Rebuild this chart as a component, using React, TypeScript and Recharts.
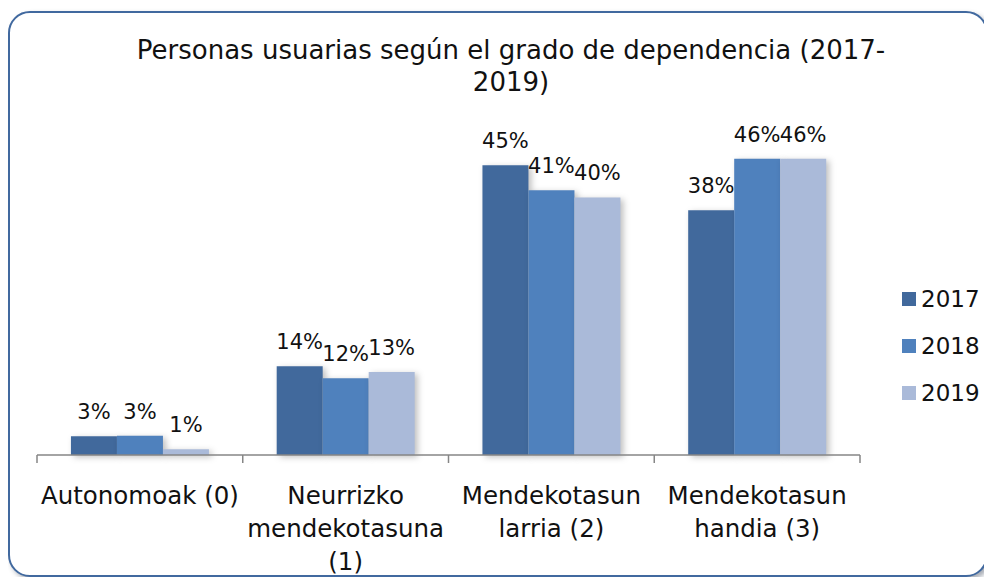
import React from 'react';
import { BarChart, Bar, XAxis, YAxis, LabelList } from 'recharts';

// categories (grado de dependencia)
const categories = ['Autonomoak (0)', 'Neurrizko mendekotasuna (1)', 'Mendekotasun larria (2)', 'Mendekotasun handia (3)'];
// how each tick label breaks into lines, as in the picture
const tickLines = [
  ['Autonomoak (0)'],
  ['Neurrizko', 'mendekotasuna', '(1)'],
  ['Mendekotasun', 'larria (2)'],
  ['Mendekotasun', 'handia (3)'],
];
// percentages
const values2017 = [2.9, 13.8, 45.0, 38.0];
const values2018 = [3.0, 11.9, 41.1, 46.0];
const values2019 = [0.9, 12.9, 40.0, 46.0];

const seriesNames = ['2017', '2018', '2019'];
const colors = ['#41699c', '#4f81bd', '#aabad9'];

const data = categories.map((name, i) => ({
  name,
  y2017: values2017[i],
  y2018: values2018[i],
  y2019: values2019[i],
}));

const CHART_W = 976;
const CHART_H = 562;
const margin = { top: 120, right: 126, bottom: 10, left: 27 };
const PLOT_W = CHART_W - margin.left - margin.right;
const FONT = '"DejaVu Sans", Tahoma, sans-serif';

const CategoryTick = (props: any) => {
  const { x, y, payload, index } = props;
  const band = PLOT_W / categories.length;
  const lines = tickLines[index] || [payload.value];
  return (
    <g>
      <line x1={x - band / 2} y1={y} x2={x - band / 2} y2={y + 8} stroke="#868686" strokeWidth={1.5} />
      {index === categories.length - 1 && (
        <line x1={x + band / 2} y1={y} x2={x + band / 2} y2={y + 8} stroke="#868686" strokeWidth={1.5} />
      )}
      <text x={x} y={y} textAnchor="middle" fontSize={24.5} fontFamily={FONT} fill="#111">
        {lines.map((l: string, k: number) => (
          <tspan key={k} x={x} dy={k === 0 ? 49 : 33}>{l}</tspan>
        ))}
      </text>
    </g>
  );
};

const pct = (v: any) => `${Math.round(Number(v))}%`;

export default function App() {
  return (
    <div style={{ paddingTop: 3 }}>
      <style>{`.recharts-bar-rectangle path { filter: drop-shadow(3px 2px 3px rgba(0,0,0,0.25)); }`}</style>
      <div
        style={{
          position: 'relative',
          width: 980,
          height: 566,
          boxSizing: 'border-box',
          border: '2px solid #41699f',
          borderRadius: 22,
          background: '#fff',
          boxShadow: '3px 3px 5px rgba(60,70,90,0.45)',
        }}
      >
        <div
          style={{
            position: 'absolute',
            left: 91,
            top: 21,
            width: 820,
            textAlign: 'center',
            fontFamily: FONT,
            fontSize: 26,
            lineHeight: '32px',
            color: '#111',
          }}
        >
          Personas usuarias según el grado de dependencia (2017-
          <br />
          2019)
        </div>
        <div
          style={{ position: 'absolute', left: 892, top: 262, fontFamily: FONT, fontSize: 23, color: '#111' }}
        >
          {seriesNames.map((s, i) => (
            <div key={s} style={{ display: 'flex', alignItems: 'center', height: 47 }}>
              <span style={{ width: 14, height: 14, background: colors[i], marginRight: 5, display: 'inline-block' }} />
              <span>{s}</span>
            </div>
          ))}
        </div>
        <BarChart width={CHART_W} height={CHART_H} data={data} margin={margin} barCategoryGap="16.5%" barGap={0}>
          <XAxis
            dataKey="name"
            stroke="#868686"
            strokeWidth={1.5}
            tickLine={false}
            tickSize={0}
            tickMargin={0}
            height={110}
            interval={0}
            tick={<CategoryTick />}
          />
          <YAxis hide domain={[0, 50]} />
          {['y2017', 'y2018', 'y2019'].map((k, i) => (
            <Bar key={k} dataKey={k} name={seriesNames[i]} fill={colors[i]} isAnimationActive={false}>
              <LabelList dataKey={k} position="top" offset={17} formatter={pct} fontSize={21} fontFamily={FONT} fill="#111" />
            </Bar>
          ))}
        </BarChart>
      </div>
    </div>
  );
}
